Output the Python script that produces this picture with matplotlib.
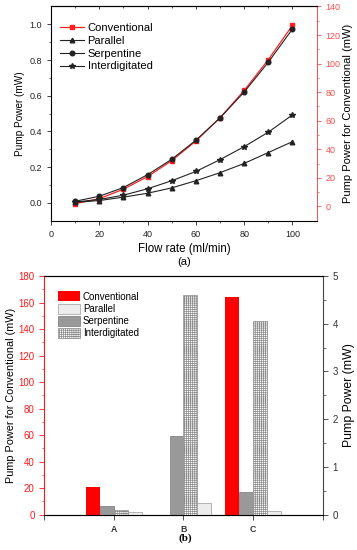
import numpy as np
import matplotlib
matplotlib.use('Agg')
import matplotlib.pyplot as plt

plt.rcParams['font.family'] = ['Liberation Sans', 'DejaVu Sans']
plt.rcParams['hatch.linewidth'] = 0.5

# (a) pump power vs flow rate
flow = [10, 20, 30, 40, 50, 60, 70, 80, 90, 100]
conventional_a = [1.9, 5.4, 12.1, 20.9, 32.1, 45.8, 62.1, 81.2, 102.8, 126.8]   # right axis (mW)
parallel_a = [0.003, 0.013, 0.032, 0.054, 0.084, 0.124, 0.169, 0.221, 0.282, 0.343]
serpentine_a = [0.009, 0.037, 0.086, 0.158, 0.244, 0.351, 0.476, 0.621, 0.788, 0.974]
interdig_a = [0.005, 0.019, 0.043, 0.079, 0.124, 0.176, 0.242, 0.315, 0.396, 0.493]

# (b) pump power per case
cases = ['A', 'B', 'C']
conventional_b = [20.4, 0.0, 164.5]   # left axis (mW)
parallel_b = [0.06, 0.25, 0.08]
serpentine_b = [0.17, 1.65, 0.47]
interdig_b = [0.09, 4.6, 4.05]

RED = '#ff2020'
RED_AX = '#ff4d4d'

fig = plt.figure(figsize=(3.57, 5.5), dpi=100)

# ---------- panel (a) ----------
ax = fig.add_axes([0.1429, 0.5987, 0.744, 0.3895])
axr = ax.twinx()
ax.set_zorder(axr.get_zorder() + 1)
ax.patch.set_visible(False)

l_par, = ax.plot(flow, parallel_a, color='#222222', lw=0.8, marker='^', ms=3.3)
l_ser, = ax.plot(flow, serpentine_a, color='#222222', lw=0.8, marker='o', ms=3.3)
l_int, = ax.plot(flow, interdig_a, color='#222222', lw=0.8, marker='*', ms=3.8)
l_con, = axr.plot(flow, conventional_a, color=RED, lw=0.9, marker='s', ms=3.0)

ax.set_xlim(0, 110)
ax.set_ylim(-0.1, 1.1)
axr.set_ylim(-10, 140)
ax.set_xticks(np.arange(0, 101, 20))
ax.set_xticks(np.arange(10, 110, 20), minor=True)
ax.set_yticks(np.arange(0, 1.01, 0.2))
ax.set_yticks(np.arange(0.1, 1.1, 0.2), minor=True)
ax.set_yticklabels(['%.1f' % v for v in np.arange(0, 1.01, 0.2)])
axr.set_yticks(np.arange(0, 141, 20))
axr.set_yticks(np.arange(10, 140, 20), minor=True)

ax.tick_params(which='both', direction='out', labelsize=6.5, colors='#222222')
ax.tick_params(which='major', length=3, width=0.6)
ax.tick_params(which='minor', length=1.6, width=0.5)
axr.tick_params(which='both', direction='out', labelsize=6.5, colors=RED_AX)
axr.tick_params(which='major', length=3, width=0.6)
axr.tick_params(which='minor', length=1.6, width=0.5)
for s in ['left', 'bottom', 'top']:
    ax.spines[s].set_linewidth(0.7)
axr.spines['right'].set_color(RED_AX)
axr.spines['right'].set_linewidth(0.7)
ax.spines['right'].set_visible(False)

top = ax.secondary_xaxis('top')
top.set_xticks(np.arange(0, 101, 20))
top.set_xticks(np.arange(10, 110, 20), minor=True)
top.tick_params(which='both', direction='in', labeltop=False, length=2, width=0.5)
top.tick_params(which='minor', length=1.2)

ax.set_ylabel('Pump Power (mW)', fontsize=7.2, labelpad=3)
axr.set_ylabel('Pump Power for Conventional (mW)', fontsize=8, labelpad=2)
ax.set_xlabel('Flow rate (ml/min)', fontsize=8.3, labelpad=3)
fig.text(0.515, 0.523, '(a)', fontsize=8, ha='center', va='center')

ax.legend([l_con, l_par, l_ser, l_int], ['Conventional', 'Parallel', 'Serpentine', 'Interdigitated'],
          loc='upper left', bbox_to_anchor=(0.152, 0.968), bbox_transform=fig.transFigure,
          frameon=False, fontsize=8, handlelength=2.2, handletextpad=0.3,
          labelspacing=0.25, borderpad=0)

# ---------- panel (b) ----------
bx = fig.add_axes([0.124, 0.0645, 0.780, 0.4336])
bxr = bx.twinx()
x = np.arange(1, len(cases) + 1)
w = 0.2

b_con = bx.bar(x - 1.5 * w, conventional_b, w, color='#ff0000', lw=0)
b_ser = bxr.bar(x - 0.5 * w, serpentine_b, w, color='#999999', edgecolor='#777777', lw=0.5)
b_int = bxr.bar(x + 0.5 * w, interdig_b, w, color='white', edgecolor='#8a8a8a', lw=0.5,
                hatch='++++++++')
b_par = bxr.bar(x + 1.5 * w, parallel_b, w, color='#ececec', edgecolor='#9a9a9a', lw=0.5)

bx.set_xlim(0, 4)
bx.set_ylim(0, 180)
bxr.set_ylim(0, 5)
bx.set_xticks([0, 1, 2, 3, 4])
bx.set_xticklabels(['', 'A', 'B', 'C', ''], fontweight='bold', fontsize=6.3)
bx.set_yticks(np.arange(0, 181, 20))
bx.set_yticks(np.arange(10, 180, 20), minor=True)
bxr.set_yticks(np.arange(0, 6, 1))
bxr.set_yticks(np.arange(0.5, 5, 1), minor=True)

bx.tick_params(axis='x', direction='out', length=3.5, width=0.6, colors='#333333', pad=4)
bx.tick_params(axis='y', which='both', direction='out', labelsize=7, colors='#ff1a1a')
bx.tick_params(axis='y', which='major', length=3.5, width=0.6)
bx.tick_params(axis='y', which='minor', length=1.8, width=0.5)
bxr.tick_params(which='both', direction='out', labelsize=7, colors='#333333')
bxr.tick_params(which='major', length=3.5, width=0.6)
bxr.tick_params(which='minor', length=1.8, width=0.5)
bx.spines['left'].set_color('#ff1a1a')
bx.spines['left'].set_linewidth(0.8)
bx.spines['bottom'].set_color('#444444')
bx.spines['bottom'].set_linewidth(0.8)
bx.spines['top'].set_linewidth(0.8)
bx.spines['right'].set_visible(False)
bxr.spines['left'].set_visible(False)
bxr.spines['right'].set_color('#444444')
bxr.spines['right'].set_linewidth(0.8)

bx.set_ylabel('Pump Power for Conventional (mW)', fontsize=7.8, labelpad=2)
bxr.set_ylabel('Pump Power (mW)', fontsize=8.8, labelpad=4)
fig.text(0.518, 0.022, '(b)', fontsize=8, fontweight='bold', ha='center', va='center',
         family=['Liberation Serif', 'DejaVu Serif'])

bxr.legend([b_con, b_par, b_ser, b_int], ['Conventional', 'Parallel', 'Serpentine', 'Interdigitated'],
           loc='upper left', bbox_to_anchor=(0.148, 0.479), bbox_transform=fig.transFigure,
           frameon=False, fontsize=7, handlelength=2.3, handleheight=1.2,
           handletextpad=0.3, labelspacing=0.2, borderpad=0)

fig.savefig('out.png', dpi=100)
